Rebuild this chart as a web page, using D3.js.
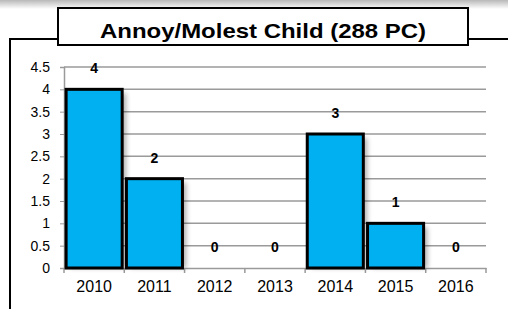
<!DOCTYPE html>
<html>
<head>
<meta charset="utf-8">
<script src="https://cdn.jsdelivr.net/npm/d3@7"></script>
<style>
  body { margin: 0; background: #fff; }
  svg { display: block; font-family: Arial, "Liberation Sans", sans-serif; }
</style>
</head>
<body>
<div id="chart"></div>
<script>
const title = "Annoy/Molest Child (288 PC)"
const years = ["2010", "2011", "2012", "2013", "2014", "2015", "2016"]
const counts = [4, 2, 0, 0, 3, 1, 0]
const yTicks = [0, 0.5, 1, 1.5, 2, 2.5, 3, 3.5, 4, 4.5]

const width = 508
const height = 309
const margin = { top: 67, right: 22, bottom: 41, left: 64 }
const innerW = width - margin.left - margin.right
const innerH = height - margin.top - margin.bottom

const svg = d3.select("#chart")
  .append("svg")
  .attr("width", width)
  .attr("height", height)

const defs = svg.append("defs")
const grad = defs.append("linearGradient")
  .attr("id", "topShade")
  .attr("x1", 0).attr("y1", 0).attr("x2", 0).attr("y2", 1)
grad.append("stop").attr("offset", "0%").attr("stop-color", "#b8b8b8")
grad.append("stop").attr("offset", "100%").attr("stop-color", "#fff")

const blur = defs.append("filter").attr("id", "shadow")
  .attr("x", "-20%").attr("y", "-20%").attr("width", "150%").attr("height", "150%")
blur.append("feGaussianBlur").attr("stdDeviation", 2.5)

// shaded strip along the top edge
svg.append("rect")
  .attr("x", 0).attr("y", 0)
  .attr("width", width).attr("height", 9)
  .style("fill", "url(#topShade)")

// outer frame
svg.append("path")
  .attr("d", `M10,${height + 2} V39 H${width + 2}`)
  .style("fill", "none")
  .style("stroke", "#000")
  .style("stroke-width", 2)

// title box
svg.append("rect")
  .attr("x", 58).attr("y", 8)
  .attr("width", 410).attr("height", 37)
  .style("fill", "#fff")
  .style("stroke", "#000")
  .style("stroke-width", 2)

svg.append("text")
  .attr("x", 263).attr("y", 38)
  .attr("text-anchor", "middle")
  .attr("textLength", 326)
  .attr("lengthAdjust", "spacingAndGlyphs")
  .style("font-size", "21px")
  .style("font-weight", "bold")
  .text(title)

const g = svg.append("g")
  .attr("transform", `translate(${margin.left},${margin.top})`)

const x = d3.scaleBand()
  .domain(years)
  .range([0, innerW])
  .paddingInner(0.07)
  .paddingOuter(0.035)

const xBand = d3.scaleBand().domain(years).range([0, innerW])

const y = d3.scaleLinear()
  .domain([0, 4.5])
  .range([innerH, 0])

// gridlines
g.selectAll(".grid")
  .data(yTicks.filter(d => d > 0))
  .enter()
  .append("line")
  .attr("x1", 0).attr("x2", innerW)
  .attr("y1", d => y(d)).attr("y2", d => y(d))
  .style("stroke", "#9a9a9a")
  .style("stroke-width", 1.5)

// y axis
const yAxis = g.append("g")
  .call(d3.axisLeft(y).tickValues(yTicks).tickSize(4).tickPadding(10).tickFormat(d => d))
yAxis.select(".domain").style("stroke", "#9a9a9a").style("stroke-width", 1.5)
yAxis.selectAll(".tick line").style("stroke", "#9a9a9a")
yAxis.selectAll("text").style("font-size", "14px").style("fill", "#000")

// x axis
const xAxis = g.append("g")
  .attr("transform", `translate(0,${innerH})`)
  .call(d3.axisBottom(xBand).tickSize(0).tickPadding(13))
xAxis.select(".domain").style("stroke", "#9a9a9a").style("stroke-width", 1.5)
xAxis.selectAll("text").style("font-size", "16px").style("fill", "#000")

xAxis.selectAll(".sep")
  .data(d3.range(years.length + 1))
  .enter()
  .append("line")
  .attr("x1", i => i * xBand.step()).attr("x2", i => i * xBand.step())
  .attr("y1", 0).attr("y2", 5)
  .style("stroke", "#9a9a9a")
  .style("stroke-width", 1.5)

const data = years.map((yr, i) => ({ yr, v: counts[i] }))
const bars = data.filter(d => d.v > 0)

// bar shadows
g.selectAll(".shadow")
  .data(bars)
  .enter()
  .append("rect")
  .attr("x", d => x(d.yr) + 4)
  .attr("y", d => y(d.v) + 4)
  .attr("width", x.bandwidth())
  .attr("height", d => innerH - y(d.v) - 4)
  .style("fill", "#000")
  .style("opacity", 0.3)
  .attr("filter", "url(#shadow)")

g.selectAll(".bar")
  .data(bars)
  .enter()
  .append("rect")
  .attr("x", d => x(d.yr))
  .attr("y", d => y(d.v))
  .attr("width", x.bandwidth())
  .attr("height", d => innerH - y(d.v))
  .style("fill", "#00b0f0")
  .style("stroke", "#000")
  .style("stroke-width", 3)

g.selectAll(".label")
  .data(data)
  .enter()
  .append("text")
  .attr("x", d => xBand(d.yr) + xBand.bandwidth() / 2)
  .attr("y", d => y(d.v) - 16)
  .attr("text-anchor", "middle")
  .style("font-size", "14px")
  .style("font-weight", "bold")
  .text(d => d.v)
</script>
</body>
</html>
